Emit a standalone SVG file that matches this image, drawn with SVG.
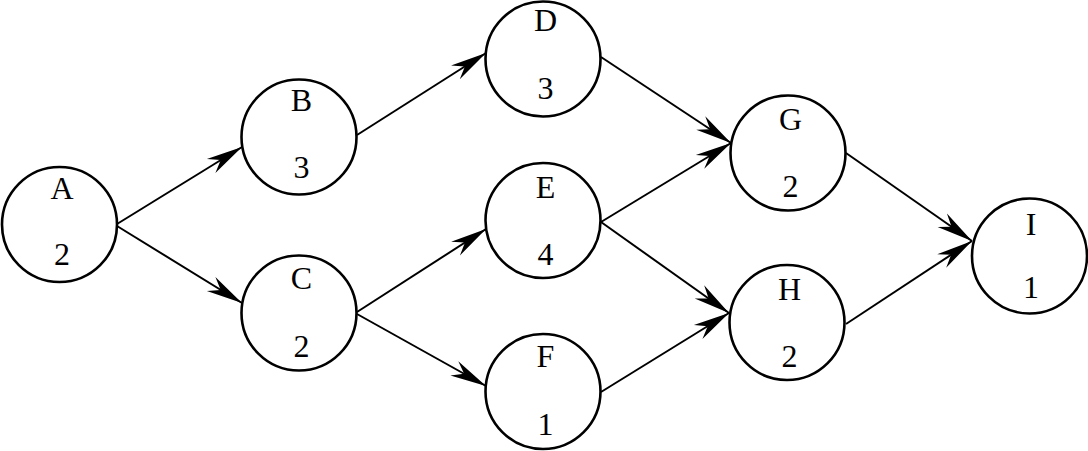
<svg xmlns="http://www.w3.org/2000/svg" width="1088" height="451" viewBox="0 0 1088 451">
<style>
.node circle{fill:#fff;stroke:#000;stroke-width:2.6}
.node text{font-family:"Liberation Serif","Times New Roman",serif;font-size:32px;text-anchor:middle;fill:#000}
.edges line{stroke:#000;stroke-width:2;marker-end:url(#arr)}
</style>
<defs>
<marker id="arr" markerUnits="userSpaceOnUse" markerWidth="40" markerHeight="20" viewBox="-30 -8 32 16" refX="0" refY="0" orient="auto">
<path d="M0,0 L-29,-6.5 L-20,0 L-29,6.5 Z" fill="#000"/>
</marker>
</defs>
<rect width="1088" height="451" fill="#fff"/>
<g class="edges">
<line x1="117" y1="224" x2="242" y2="147"/>
<line x1="117" y1="226" x2="242" y2="303"/>
<line x1="357" y1="135" x2="486" y2="53"/>
<line x1="357" y1="312" x2="486" y2="229"/>
<line x1="357" y1="314" x2="486" y2="386"/>
<line x1="601" y1="57" x2="731" y2="143"/>
<line x1="601" y1="222" x2="731" y2="143"/>
<line x1="601" y1="222" x2="729" y2="313"/>
<line x1="601" y1="392" x2="729" y2="313"/>
<line x1="846" y1="153" x2="972" y2="241"/>
<line x1="846" y1="324" x2="972" y2="241"/>
</g>
<g id="A" class="node"><circle cx="59.5" cy="224.5" r="57.5"/><text x="62" y="199">A</text><text x="62" y="265">2</text></g>
<g id="B" class="node"><circle cx="299" cy="137" r="57.5"/><text x="301.5" y="111">B</text><text x="301.5" y="178">3</text></g>
<g id="C" class="node"><circle cx="299" cy="313" r="57.5"/><text x="301.5" y="289">C</text><text x="301.5" y="357">2</text></g>
<g id="D" class="node"><circle cx="543" cy="59" r="57.5"/><text x="545.5" y="31">D</text><text x="545.5" y="99">3</text></g>
<g id="E" class="node"><circle cx="543" cy="220.5" r="57.5"/><text x="545.5" y="198">E</text><text x="545.5" y="265">4</text></g>
<g id="F" class="node"><circle cx="543" cy="391.5" r="57.5"/><text x="545.5" y="367">F</text><text x="545.5" y="435">1</text></g>
<g id="G" class="node"><circle cx="788" cy="153" r="57.5"/><text x="790.5" y="130">G</text><text x="790.5" y="197">2</text></g>
<g id="H" class="node"><circle cx="787" cy="322.5" r="57.5"/><text x="789.5" y="300">H</text><text x="789.5" y="367">2</text></g>
<g id="I" class="node"><circle cx="1029.5" cy="256" r="57.5"/><text x="1031" y="235">I</text><text x="1031" y="298">1</text></g>
</svg>
